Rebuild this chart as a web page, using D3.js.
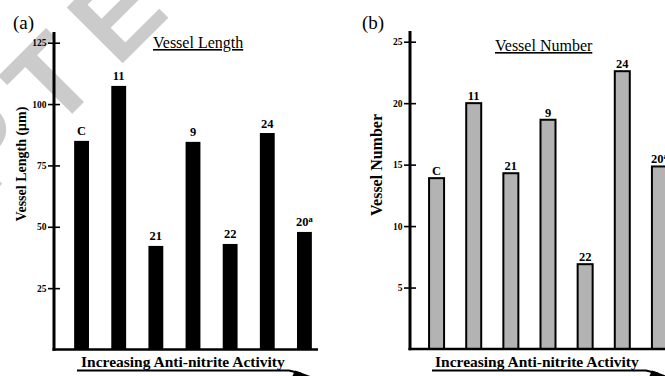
<!DOCTYPE html>
<html>
<head>
<meta charset="utf-8">
<script src="https://cdn.jsdelivr.net/npm/d3@7"></script>
<style>
  body { margin: 0; background: #fff; }
  svg { display: block; }
  text { font-family: "Liberation Serif", "Times New Roman", serif; }
</style>
</head>
<body>
<script>
//chart values
var categories = ["C", "11", "21", "9", "22", "24", "20"];
var superscripts = ["", "", "", "", "", "", "a"];
var vesselLength = [85, 107.4, 42.2, 84.6, 43, 88.2, 47.9];
var vesselNumber = [13.9, 20, 14.3, 18.65, 6.9, 22.6, 14.85];
var lengthTicks = [25, 50, 75, 100, 125];
var numberTicks = [5, 10, 15, 20, 25];

var width = 665, height = 376;

var svg = d3.select("body").append("svg")
    .attr("width", width)
    .attr("height", height);

//grey watermark behind the figure
svg.append("text")
    .attr("transform", "translate(-302,488) rotate(-45)")
    .style("font-family", "'Liberation Sans', Arial, sans-serif")
    .style("letter-spacing", "20px")
    .attr("font-weight", "bold")
    .attr("font-size", 115)
    .attr("fill", "#cbcbcb")
    .text("ACCEPTED");

//draw one panel
function drawPanel(opt){
    var g = svg.append("g");

    var y = d3.scaleLinear()
        .domain([0, opt.max])
        .range([opt.y0, opt.y1]);

    var x = d3.scaleBand()
        .domain(categories)
        .range(opt.xRange)
        .paddingInner(0.6)
        .paddingOuter(0.3);

    //bars
    g.selectAll(".bar")
        .data(opt.values)
        .enter()
        .append("rect")
        .attr("class", "bar")
        .attr("x", function(d, i){ return x(categories[i]) + (opt.barWidth ? (x.bandwidth() - opt.barWidth) / 2 : 0); })
        .attr("width", opt.barWidth || x.bandwidth())
        .attr("y", function(d){ return y(d); })
        .attr("height", function(d){ return opt.y0 - y(d); })
        .attr("fill", opt.fill)
        .attr("stroke", opt.stroke)
        .attr("stroke-width", opt.strokeWidth);

    //bar labels
    var lab = g.selectAll(".lab")
        .data(opt.values)
        .enter()
        .append("text")
        .attr("class", "lab")
        .attr("x", function(d, i){ return x(categories[i]) + x.bandwidth() / 2; })
        .attr("y", function(d){ return y(d) - opt.labelGap; })
        .attr("text-anchor", "middle")
        .attr("font-weight", "bold")
        .attr("font-size", 12.5);
    lab.append("tspan").text(function(d, i){ return categories[i]; });
    lab.append("tspan")
        .attr("font-size", 8.5)
        .attr("dy", -4.5)
        .text(function(d, i){ return superscripts[i]; });

    //y axis ticks
    var axis = d3.axisLeft(y)
        .tickValues(opt.ticks)
        .tickSize(6)
        .tickPadding(1.5);
    var ag = g.append("g")
        .attr("transform", "translate(" + opt.axisX + ",0)")
        .call(axis);
    ag.select(".domain").remove();
    ag.selectAll(".tick line")
        .attr("x1", 6)
        .attr("stroke", "#000")
        .attr("stroke-width", 1.6);
    ag.selectAll(".tick text")
        .style("font-family", "'Liberation Serif', serif")
        .attr("font-weight", "bold")
        .attr("font-size", 9.5)
        .attr("fill", "#000");

    //axis lines
    g.append("line")
        .attr("x1", opt.axisX).attr("x2", opt.axisX)
        .attr("y1", opt.axisTop).attr("y2", opt.y0 + 1.2)
        .attr("stroke", "#000").attr("stroke-width", 3);
    g.append("line")
        .attr("x1", opt.axisX - 1.5).attr("x2", opt.axisRight)
        .attr("y1", opt.y0).attr("y2", opt.y0)
        .attr("stroke", "#000").attr("stroke-width", 2.5);

    //panel letter
    g.append("text")
        .attr("x", opt.letterX).attr("y", 29)
        .attr("font-size", 19)
        .text(opt.letter);

    //title
    g.append("text")
        .attr("x", opt.titleX).attr("y", opt.titleY)
        .attr("font-size", 16)
        .attr("text-decoration", "underline")
        .text(opt.title);

    //y label
    g.append("text")
        .attr("transform", "translate(" + opt.ylabX + "," + opt.ylabY + ") rotate(-90)")
        .attr("text-anchor", "middle")
        .attr("font-weight", "bold")
        .attr("font-size", opt.ylabSize)
        .text(opt.ylabel);

    //x label with arrow
    g.append("text")
        .attr("x", opt.xlabX).attr("y", 367)
        .attr("font-weight", "bold")
        .attr("font-size", 15.5)
        .text("Increasing Anti-nitrite Activity");
    g.append("path")
        .attr("d", "M" + opt.arrowX0 + ",370.5H" + (opt.arrowX1 - 16) + "L" + (opt.arrowX1 - 4) + ",373.5")
        .attr("fill", "none")
        .attr("stroke", "#000")
        .attr("stroke-width", 2);
    g.append("path")
        .attr("d", "M" + (opt.arrowX1 - 10) + ",370.5L" + (opt.arrowX1 + 8) + ",377L" + (opt.arrowX1 - 13) + ",377Z")
        .attr("fill", "#000");
}

drawPanel({
    values: vesselLength, max: 125, ticks: lengthTicks,
    y0: 349.5, y1: 42.7, xRange: [63, 323], axisX: 54, axisTop: 32, axisRight: 318,
    fill: "#000", stroke: "none", strokeWidth: 0, labelGap: 5.5,
    letter: "(a)", letterX: 13, title: "Vessel Length", titleX: 153, titleY: 48,
    ylabel: "Vessel Length (\u03bcm)", ylabX: 26, ylabY: 164, ylabSize: 14,
    xlabX: 81, arrowX0: 77, arrowX1: 305
});

drawPanel({
    values: vesselNumber, max: 25, ticks: numberTicks,
    y0: 349, y1: 41.7, xRange: [418, 678], axisX: 410, axisTop: 31, axisRight: 670,
    fill: "#b3b3b3", stroke: "#000", strokeWidth: 2, labelGap: 3, barWidth: 15,
    letter: "(b)", letterX: 362, title: "Vessel Number", titleX: 495, titleY: 51,
    ylabel: "Vessel Number", ylabX: 382, ylabY: 165, ylabSize: 16,
    xlabX: 435, arrowX0: 432, arrowX1: 662
});
</script>
</body>
</html>
